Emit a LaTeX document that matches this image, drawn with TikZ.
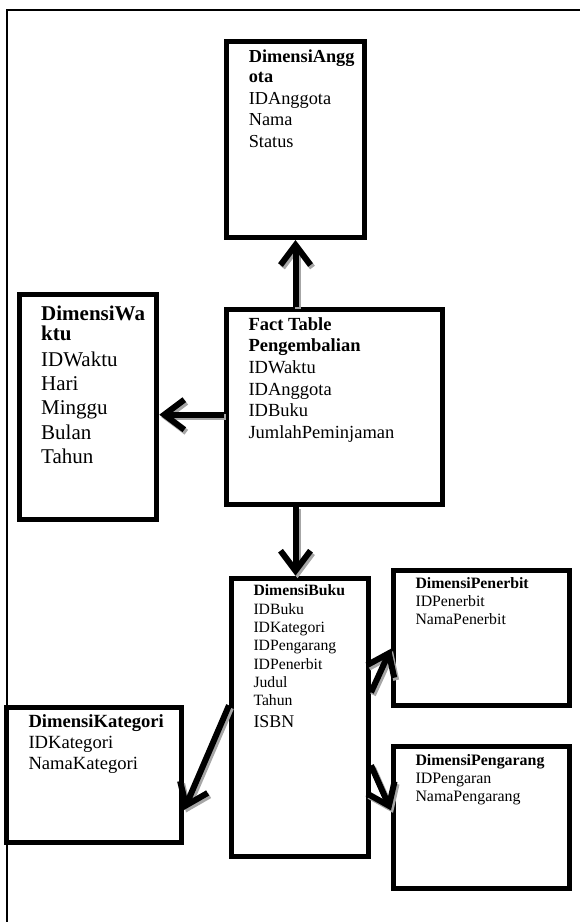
\documentclass[tikz,border=0pt]{standalone}
\usepackage{fontspec}
\setmainfont{Liberation Serif}
\usetikzlibrary{arrows.meta}

\begin{document}
\begin{tikzpicture}[x=1pt, y=-1pt,
  tabel/.style={rectangle, draw, line width=5pt, inner xsep=22pt, outer sep=2.5pt, anchor=north west},
  link/.style={-{Straight Barb[length=20pt,width=30pt]}, line width=6pt}]
\useasboundingbox (0,0) rectangle (580,922);

% Frame
\draw[line width=2pt] (580,10) -- (7,10) -- (7,922);

% Dimensi Anggota
\node[tabel, inner ysep=8.5pt] (anggota) at (224.3,39) {
    \begin{minipage}[t][179pt][t]{93.4pt}
    \fontsize{18.3}{21.5}\selectfont
    \textbf{DimensiAngg}\\[-1.5pt]
    \textbf{ota}\\
    IDAnggota\\
    Nama\\
    Status
    \end{minipage}
};

% Dimensi Waktu
\node[tabel, inner ysep=11.8pt] (waktu) at (16.7,291.7) {
    \begin{minipage}[t][202pt][t]{93.6pt}
    \fontsize{21}{24.3}\selectfont
    \textbf{DimensiWa}\\[-4.3pt]
    \textbf{ktu}\\[1.4pt]
    IDWaktu\\
    Hari\\
    Minggu\\
    Bulan\\
    Tahun
    \end{minipage}
};

% Fact table
\node[tabel, inner ysep=8pt] (fact) at (224,306.7) {
    \begin{minipage}[t][179pt][t]{172pt}
    \fontsize{18.5}{21.7}\selectfont
    \textbf{Fact Table}\\
    \textbf{Pengembalian}\\
    IDWaktu\\
    IDAnggota\\
    IDBuku\\
    JumlahPeminjaman
    \end{minipage}
};

% Dimensi Buku
\node[tabel, inner ysep=6.8pt] (buku) at (229,575.7) {
    \begin{minipage}[t][264.7pt][t]{93pt}
    \fontsize{15.7}{18.3}\selectfont
    \textbf{DimensiBuku}\\
    IDBuku\\
    IDKategori\\
    IDPengarang\\
    IDPenerbit\\
    Judul\\
    Tahun\\[3.4pt]
    {\fontsize{17.9}{18.3}\selectfont ISBN}
    \end{minipage}
};

% Dimensi Penerbit
\node[tabel, inner ysep=7pt] (penerbit) at (391,567.7) {
    \begin{minipage}[t][121pt][t]{132.3pt}
    \fontsize{15.8}{18.3}\selectfont
    \textbf{DimensiPenerbit}\\
    IDPenerbit\\
    NamaPenerbit
    \end{minipage}
};

% Dimensi Pengarang
\node[tabel, inner ysep=7.5pt] (pengarang) at (391,744) {
    \begin{minipage}[t][126.7pt][t]{132.3pt}
    \fontsize{15.9}{18.3}\selectfont
    \textbf{DimensiPengarang}\\
    IDPengaran\\
    NamaPengarang
    \end{minipage}
};

% Dimensi Kategori
\node[tabel, inner ysep=7.5pt] (kategori) at (4,705) {
    \begin{minipage}[t][120pt][t]{131pt}
    \fontsize{18.6}{21}\selectfont
    \textbf{DimensiKategori}\\
    IDKategori\\
    NamaKategori
    \end{minipage}
};

% Arrows (grey shadow first, then black)
\foreach \ink/\off in {black!35/2, black/0} {
\begin{scope}[transform canvas={xshift=\off pt, yshift=-1.25*\off pt}, link/.append style={draw=\ink}]
\draw[link] (fact.north -| anggota.south) -- (anggota.south);
\draw[link] ([yshift=-8pt]fact.west) -- ([yshift=-8pt]fact.west -| waktu.east);
\draw[link] (fact.south -| anggota.south) -- (buku.north -| anggota.south);
\draw[link] ([yshift=25pt]buku.east) -- ([yshift=-11pt]penerbit.west);
\draw[link] ([yshift=-48pt]buku.east) -- ([yshift=7pt]pengarang.west);
\draw[link] ([yshift=12pt]buku.west) -- ([yshift=-35pt]kategori.east);
\end{scope}
}
\end{tikzpicture}
\end{document}
